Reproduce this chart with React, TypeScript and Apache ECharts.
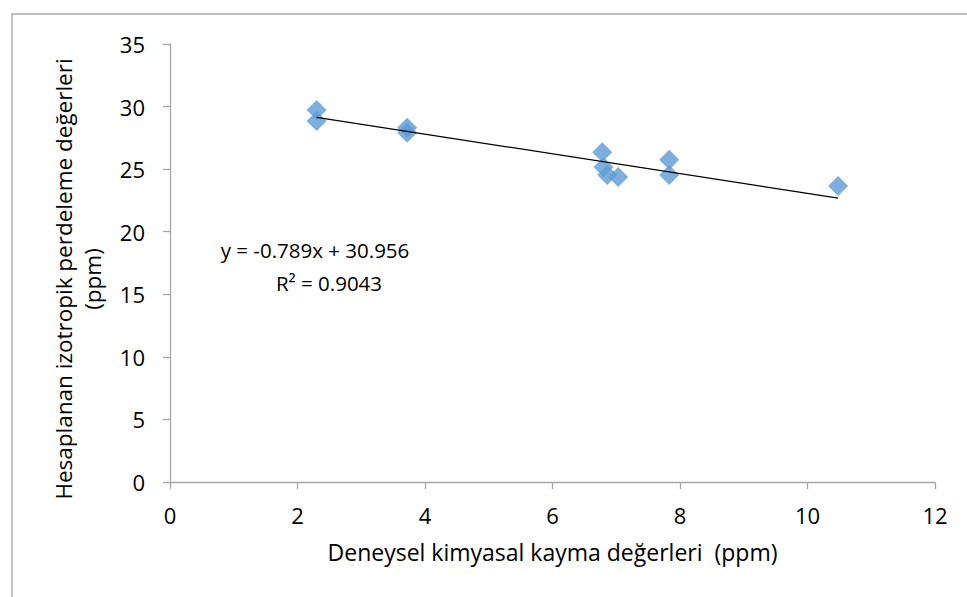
import React, { useEffect, useRef } from "react";
import * as echarts from "echarts";

const experimental = [2.3, 2.3, 3.72, 3.72, 6.78, 6.8, 6.86, 7.03, 7.83, 7.83, 10.48];
const calculated = [29.73, 28.85, 28.3, 27.9, 26.35, 25.17, 24.53, 24.37, 25.75, 24.53, 23.65];
const slope = -0.789;
const intercept = 30.956;
const rSquared = "0.9043";
const xTicks = [0, 2, 4, 6, 8, 10, 12];
const yTicks = [0, 5, 10, 15, 20, 25, 30, 35];
const xTitle = "Deneysel kimyasal kayma değerleri  (ppm)";
const yTitle = "Hesaplanan izotropik perdeleme değerleri\n(ppm)";

const FONT = "'Open Sans', 'Noto Sans', sans-serif";

export default function App() {
  const ref = useRef<HTMLDivElement>(null);
  useEffect(() => {
    document.body.style.margin = "0";
    if (!ref.current) return;
    const chart = echarts.init(ref.current, undefined, { renderer: "svg" });
    const xmin = Math.min(...experimental);
    const xmax = Math.max(...experimental);
    const trend = [
      [xmin, slope * xmin + intercept],
      [xmax, slope * xmax + intercept],
    ];
    const axisLineColor = "#A6A6A6";
    chart.setOption({
      animation: false,
      backgroundColor: "#ffffff",
      grid: { left: 170, right: 32, top: 44, bottom: 115, containLabel: false },
      xAxis: {
        type: "value",
        min: xTicks[0],
        max: xTicks[xTicks.length - 1],
        interval: 2,
        name: xTitle,
        nameLocation: "middle",
        nameGap: 58,
        nameTextStyle: { fontFamily: FONT, fontSize: 23, color: "#000" },
        axisLine: { show: true, lineStyle: { color: axisLineColor, width: 1.3 } },
        axisTick: { show: true, inside: false, length: 7, lineStyle: { color: axisLineColor, width: 1.3 } },
        axisLabel: { fontFamily: FONT, fontSize: 22, color: "#000", margin: 22 },
        splitLine: { show: false },
      },
      yAxis: {
        type: "value",
        min: yTicks[0],
        max: yTicks[yTicks.length - 1],
        interval: 5,
        axisLine: { show: true, lineStyle: { color: axisLineColor, width: 1.3 } },
        axisTick: { show: true, inside: false, length: 7, lineStyle: { color: axisLineColor, width: 1.3 } },
        axisLabel: { fontFamily: FONT, fontSize: 22, color: "#000", margin: 25 },
        splitLine: { show: false },
      },
      series: [
        {
          type: "line",
          data: trend,
          symbol: "none",
          lineStyle: { color: "#000", width: 1.2 },
          z: 3,
        },
        {
          type: "scatter",
          data: experimental.map((x, i) => [x, calculated[i]]),
          symbol: "diamond",
          symbolSize: 20,
          itemStyle: { color: "#5B9BD5" },
          z: 2,
        },
      ],
      graphic: [
        {
          type: "rect",
          shape: { x: 12, y: 14, width: 1000, height: 700 },
          style: { fill: "none", stroke: "#A6A6A6", lineWidth: 1.3 },
          silent: true,
        },
        {
          type: "text",
          x: 78,
          y: 279,
          rotation: Math.PI / 2,
          style: {
            text: yTitle,
            fontFamily: FONT,
            fontSize: 22.5,
            lineHeight: 29,
            fill: "#000",
            align: "center",
            verticalAlign: "middle",
          },
        },
        {
          type: "text",
          x: 315,
          y: 250,
          style: {
            text: `y = ${slope}x + ${intercept}`,
            fontFamily: FONT,
            fontSize: 20.5,
            fill: "#000",
            align: "center",
            verticalAlign: "middle",
          },
        },
        {
          type: "text",
          x: 329,
          y: 283,
          style: {
            text: `R² = ${rSquared}`,
            fontFamily: FONT,
            fontSize: 20.5,
            fill: "#000",
            align: "center",
            verticalAlign: "middle",
          },
        },
      ],
    });
    return () => chart.dispose();
  }, []);
  return <div ref={ref} style={{ width: 967, height: 597 }} />;
}
